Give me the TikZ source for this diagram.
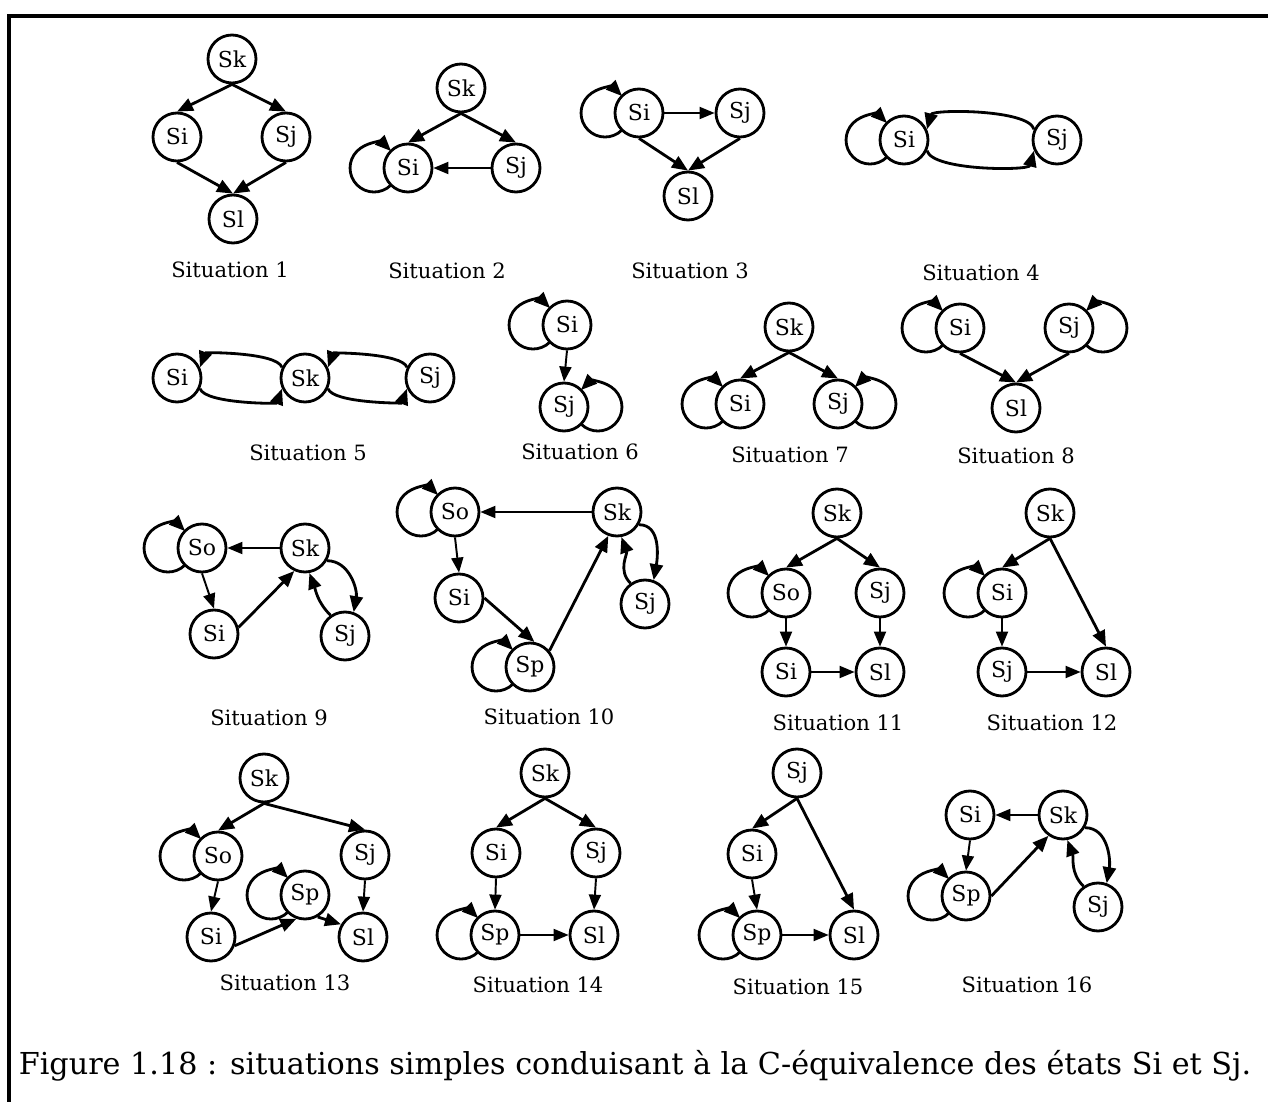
\documentclass[tikz,border=0pt]{standalone}
\usepackage{fontspec}
\setmainfont{DejaVu Serif}
\usetikzlibrary{arrows.meta}

\begin{document}
\begin{tikzpicture}[x=0.02cm, y=-0.02cm,
      mystate/.style={
         circle,
         draw=black,
         line width=1.6pt,
         inner sep=0pt,
         minimum size=0.96cm,
         font=\fontsize{12.5}{12.5}\selectfont},
      mylabel/.style={
         rectangle,
         font=\fontsize{12}{14}\selectfont},
      myarrow/.style={line width=1.6pt, -{Triangle[length=0.32cm,width=0.26cm]}},
      mythin/.style={line width=1.1pt, -{Triangle[length=0.3cm,width=0.24cm]}},
      ]
      \useasboundingbox (0,0) rectangle (1268,1114);
      \draw[line width=2.2pt] (1268,16) -- (9,16) -- (9,1102);
      % situations 1 to 4
      \node[mystate] (k1) at (232,59) {Sk};
      \node[mystate] (i1) at (177,137) {Si};
      \node[mystate] (j1) at (286,137) {Sj};
      \node[mystate] (l1) at (233,219) {Sl};
      \node[mystate] (k2) at (461,88) {Sk};
      \node[mystate] (i2) at (408,168) {Si};
      \node[mystate] (j2) at (516,168) {Sj};
      \node[mystate] (i3) at (639,113) {Si};
      \node[mystate] (j3) at (740,113) {Sj};
      \node[mystate] (l3) at (688,196) {Sl};
      \node[mystate] (i4) at (904,140) {Si};
      \node[mystate] (j4) at (1057,140) {Sj};
      % situations 5 to 8
      \node[mystate] (i5) at (177,378) {Si};
      \node[mystate] (k5) at (305,378) {Sk};
      \node[mystate] (j5) at (430,378) {Sj};
      \node[mystate] (i6) at (567,325) {Si};
      \node[mystate] (j6) at (564,407) {Sj};
      \node[mystate] (k7) at (789,327) {Sk};
      \node[mystate] (i7) at (740,404) {Si};
      \node[mystate] (j7) at (838,404) {Sj};
      \node[mystate] (i8) at (960,328) {Si};
      \node[mystate] (j8) at (1069,328) {Sj};
      \node[mystate] (l8) at (1016,408) {Sl};
      % situations 9 to 12
      \node[mystate] (o9) at (202,548) {So};
      \node[mystate] (k9) at (305,548) {Sk};
      \node[mystate] (i9) at (214,634) {Si};
      \node[mystate] (j9) at (345,636) {Sj};
      \node[mystate] (o10) at (455,512) {So};
      \node[mystate] (k10) at (617,512) {Sk};
      \node[mystate] (i10) at (459,598) {Si};
      \node[mystate] (p10) at (530,667) {Sp};
      \node[mystate] (j10) at (645,604) {Sj};
      \node[mystate] (k11) at (837,513) {Sk};
      \node[mystate] (o11) at (786,593) {So};
      \node[mystate] (j11) at (880,593) {Sj};
      \node[mystate] (i11) at (786,672) {Si};
      \node[mystate] (l11) at (880,672) {Sl};
      \node[mystate] (k12) at (1050,513) {Sk};
      \node[mystate] (i12) at (1002,593) {Si};
      \node[mystate] (j12) at (1002,672) {Sj};
      \node[mystate] (l12) at (1106,672) {Sl};
      % situations 13 to 16
      \node[mystate] (k13) at (264,778) {Sk};
      \node[mystate] (o13) at (218,856) {So};
      \node[mystate] (j13) at (365,855) {Sj};
      \node[mystate] (p13) at (305,895) {Sp};
      \node[mystate] (i13) at (211,937) {Si};
      \node[mystate] (l13) at (363,937) {Sl};
      \node[mystate] (k14) at (545,773) {Sk};
      \node[mystate] (i14) at (496,853) {Si};
      \node[mystate] (j14) at (596,853) {Sj};
      \node[mystate] (p14) at (495,935) {Sp};
      \node[mystate] (l14) at (594,935) {Sl};
      \node[mystate] (j15) at (797,773) {Sj};
      \node[mystate] (i15) at (752,854) {Si};
      \node[mystate] (p15) at (757,935) {Sp};
      \node[mystate] (l15) at (854,935) {Sl};
      \node[mystate] (i16) at (970,815) {Si};
      \node[mystate] (k16) at (1063,815) {Sk};
      \node[mystate] (p16) at (966,896) {Sp};
      \node[mystate] (j16) at (1098,907) {Sj};
    \foreach \n/\x/\y in {
      1/230/270, 2/447/271, 3/690/271, 4/981/273,
      5/308/453, 6/580/452, 7/790/455, 8/1016/456,
      9/269/718, 10/549/717, 11/838/723, 12/1052/723,
      13/285/983, 14/538/985, 15/798/987, 16/1027/985}
       \node[mylabel] (t\n) at (\x,\y) {Situation \n};
      \node[font=\fontsize{17.2}{20}\selectfont] (cap) at (635,1066)
         {Figure 1.18 : situations simples conduisant à la C-équivalence des états Si et Sj.};
    \foreach \i/\j in {
      k1.south/i1.north, k1.south/j1.north, i1.south/l1.north, j1.south/l1.north,
      k2.south/i2.north, k2.south/j2.north,
      i3.south/l3.north, j3.south/l3.north,
      k7.south/i7.north, k7.south/j7.north,
      i8.south/l8.north, j8.south/l8.north,
      i9.15/k9.245,
      i10.east/p10.80, p10.40/k10.250,
      k11.south/o11.north, k11.south/j11.north,
      k12.south/i12.north, k12.south/l12.north,
      k13.south/o13.north, k13.south/j13.north, i13.-20/p13.250, p13.-60/l13.150,
      k14.south/i14.north, k14.south/j14.north,
      j15.south/i15.north, j15.south/l15.north,
      p16.east/k16.235}
       \draw[myarrow] (\i) -- (\j);
    \foreach \i/\j in {
      j2.west/i2.east, i3.east/j3.west, i6.south/j6.north,
      k9.west/o9.east, o9.south/i9.north,
      k10.west/o10.east, o10.south/i10.north,
      o11.south/i11.north, j11.south/l11.north, i11.east/l11.west,
      i12.south/j12.north, j12.east/l12.west,
      o13.south/i13.north, j13.south/l13.north,
      i14.south/p14.north, j14.south/l14.north, p14.east/l14.west,
      i15.south/p15.north, p15.east/l15.west,
      k16.west/i16.east, i16.south/p16.north}
       \draw[mythin] (\i) -- (\j);
    \foreach \i/\j/\o/\n in {
      j4.155/i4.25/105/75, i4.-25/j4.-155/-75/-105,
      k5.155/i5.25/110/70, i5.-25/k5.-155/-70/-110,
      j5.155/k5.25/110/70, k5.-25/j5.-155/-70/-110}
       \draw[myarrow] (\i) to[out=\o,in=\n,looseness=0.5] (\j);
    \foreach \i/\j/\o/\n in {
      k9.-30/j9.70/0/80, j9.125/k9.-80/135/-70,
      k10.-30/j10.70/0/80, j10.125/k10.-80/135/-70,
      k16.-30/j16.70/0/80, j16.125/k16.-80/135/-70}
       \draw[myarrow] (\i) to[out=\o,in=\n] (\j);
    \foreach \n in {i2,i3,i4,o9,o10,p10,o11,i12,o13,p13,p14,p15,p16,i6,i7,i8}
       \draw[myarrow] ([shift={(-0.34cm,-0.34cm)}]\n.center)
          arc[start angle=-45, end angle=-315, radius=0.48cm];
    \foreach \n in {j6,j7,j8}
       \draw[myarrow] ([shift={(0.34cm,-0.34cm)}]\n.center)
          arc[start angle=225, end angle=495, radius=0.48cm];
\end{tikzpicture}
\end{document}
